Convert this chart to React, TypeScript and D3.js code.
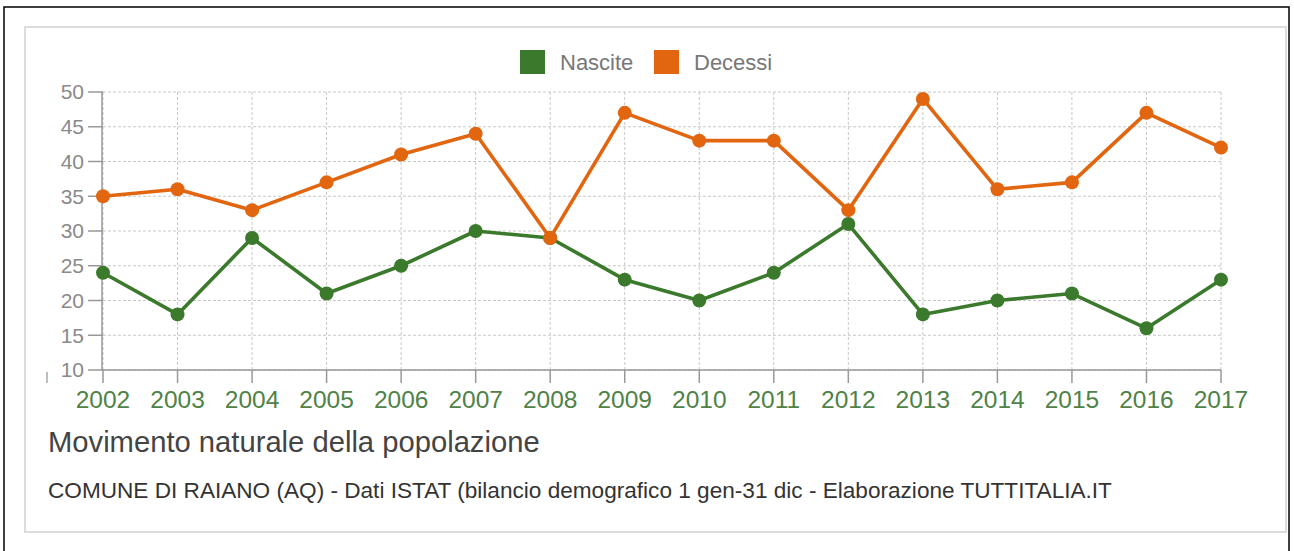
import React from "react";
import * as d3 from "d3";

const years = ["2002","2003","2004","2005","2006","2007","2008","2009","2010","2011","2012","2013","2014","2015","2016","2017"];
const nascite = [24, 18, 29, 21, 25, 30, 29, 23, 20, 24, 31, 18, 20, 21, 16, 23];
const decessi = [35, 36, 33, 37, 41, 44, 29, 47, 43, 43, 33, 49, 36, 37, 47, 42];
const yTicks = [10, 15, 20, 25, 30, 35, 40, 45, 50];
const seriesNames = ["Nascite", "Decessi"];
const seriesColors = ["#3b7a2c", "#e2650f"];
const title = "Movimento naturale della popolazione";
const subtitle = "COMUNE DI RAIANO (AQ) - Dati ISTAT (bilancio demografico 1 gen-31 dic - Elaborazione TUTTITALIA.IT";

const FONT = "'Liberation Sans', Arial, Helvetica, sans-serif";

export default function App() {
  const x = d3.scalePoint<string>().domain(years).range([103, 1221]);
  const y = d3.scaleLinear().domain([10, 50]).range([370, 92]);
  const line = d3.line<number>().x((_, i) => x(years[i])!).y((v) => y(v));
  const series = [nascite, decessi];
  const x0 = x(years[0])!;
  const x1 = x(years[years.length - 1])!;

  return (
    <div style={{ position: "absolute", left: 0, top: 0 }}>
      <svg width={1294} height={551} style={{ display: "block", background: "#fff" }} fontFamily={FONT}>
        <rect x={4} y={7} width={1285} height={560} fill="#fff" stroke="#000" strokeWidth={1.5} />
        <rect x={25} y={27} width={1261} height={505} fill="#fff" stroke="#dcdcdc" strokeWidth={2} />

        {/* legend */}
        {seriesNames.map((n, i) => {
          const lx = [520, 654][i];
          return (
            <g key={n}>
              <rect x={lx} y={50} width={25} height={24} fill={seriesColors[i]} />
              <text x={lx + 40} y={70} fontSize={22} fill="#777">{n}</text>
            </g>
          );
        })}

        {/* grid */}
        {yTicks.map((t) => (
          <line key={"gy" + t} x1={x0} x2={x1 + 1} y1={y(t)} y2={y(t)} stroke="#c8c8c8" strokeWidth={1} strokeDasharray="3,2" />
        ))}
        {years.map((yr) => (
          <line key={"gx" + yr} x1={x(yr)} x2={x(yr)} y1={y(50)} y2={y(10)} stroke="#c8c8c8" strokeWidth={1} strokeDasharray="3,2" />
        ))}

        {/* y axis */}
        <line x1={x0 - 1} x2={x0 - 1} y1={y(50)} y2={y(10)} stroke="#999" strokeWidth={1.5} />
        {yTicks.map((t) => (
          <g key={"yt" + t}>
            <line x1={88} x2={x0} y1={y(t)} y2={y(t)} stroke="#999" strokeWidth={1.5} />
            <text x={84} y={y(t)} dy="0.35em" textAnchor="end" fontSize={21} fill="#8a8a8a">{t}</text>
          </g>
        ))}

        {/* x axis */}
        <line x1={x0} x2={x1} y1={y(10)} y2={y(10)} stroke="#999" strokeWidth={1.5} />
        {years.map((yr) => (
          <g key={"xt" + yr}>
            <line x1={x(yr)} x2={x(yr)} y1={y(10)} y2={y(10) + 13} stroke="#999" strokeWidth={1.5} />
            <text x={x(yr)} y={408} textAnchor="middle" fontSize={24.5} fill="#4f8246">{yr}</text>
          </g>
        ))}
        <line x1={47} x2={47} y1={372} y2={383} stroke="#aaa" strokeWidth={1.5} />

        {/* series */}
        {series.map((s, i) => (
          <g key={seriesNames[i]}>
            <path d={line(s)!} fill="none" stroke={seriesColors[i]} strokeWidth={3.6} strokeLinejoin="round" />
            {s.map((v, j) => (
              <circle key={j} cx={x(years[j])!} cy={y(v)} r={7} fill={seriesColors[i]} />
            ))}
          </g>
        ))}

        <text x={48} y={452} fontSize={29.2} fill="#444">{title}</text>
        <text x={48} y={498} fontSize={22.6} fill="#333">{subtitle}</text>
      </svg>
    </div>
  );
}
